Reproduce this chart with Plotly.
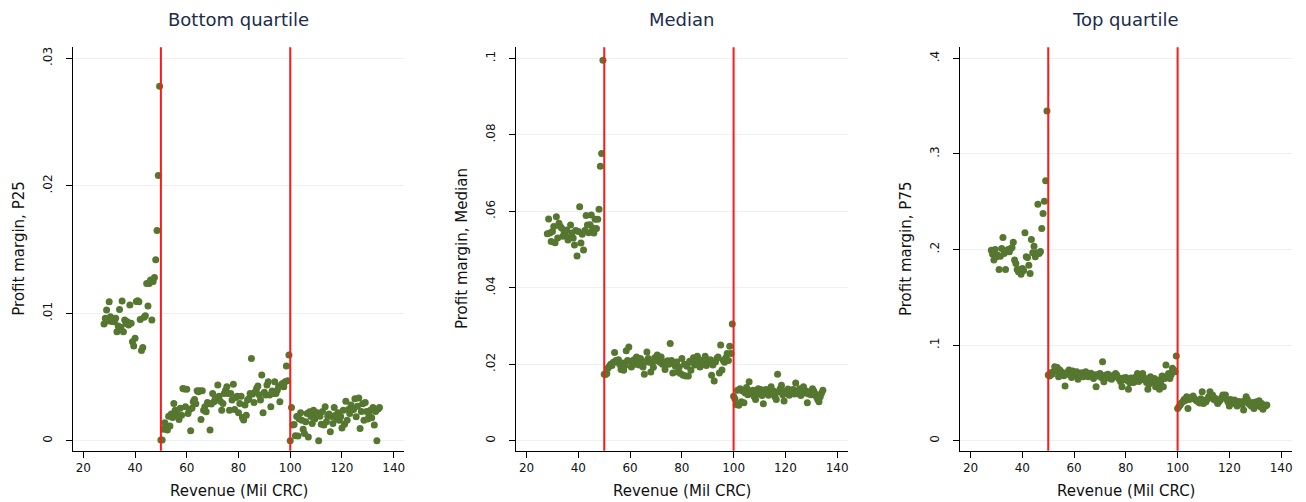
import plotly.graph_objects as go

# ---------------- data ----------------
rev_left = [28, 28.5, 29, 29.5, 30, 30.5, 31, 31.5, 32, 32.5, 33, 33.5, 34, 34.5, 35, 35.5,
            36, 36.5, 37, 37.5, 38, 38.5, 39, 39.5, 40, 40.5, 41, 41.5, 42, 42.5, 43, 43.5,
            44, 44.5, 45, 45.5, 46, 46.5, 47, 47.5, 48, 48.5, 49, 49.5]
rev_mid = [50, 50.5, 51, 51.5, 52, 52.5, 53, 53.5, 54, 54.5, 55, 55.5, 56, 56.5, 57, 57.5,
           58, 58.5, 59, 59.5, 60, 60.5, 61, 61.5, 62, 62.5, 63, 63.5, 64, 64.5, 65, 65.5,
           66, 66.5, 67, 67.5, 68, 68.5, 69, 69.5, 70, 70.5, 71, 71.5, 72, 72.5, 73, 73.5,
           74, 74.5, 75, 75.5, 76, 76.5, 77, 77.5, 78, 78.5, 79, 79.5, 80, 80.5, 81, 81.5,
           82, 82.5, 83, 83.5, 84, 84.5, 85, 85.5, 86, 86.5, 87, 87.5, 88, 88.5, 89, 89.5,
           90, 90.5, 91, 91.5, 92, 92.5, 93, 93.5, 94, 94.5, 95, 95.5, 96, 96.5, 97, 97.5,
           98, 98.5, 99, 99.5]
rev_right = [100, 100.5, 101, 101.5, 102, 102.5, 103, 103.5, 104, 104.5, 105, 105.5, 106, 106.5,
             107, 107.5, 108, 108.5, 109, 109.5, 110, 110.5, 111, 111.5, 112, 112.5, 113, 113.5,
             114, 114.5, 115, 115.5, 116, 116.5, 117, 117.5, 118, 118.5, 119, 119.5, 120, 120.5,
             121, 121.5, 122, 122.5, 123, 123.5, 124, 124.5, 125, 125.5, 126, 126.5, 127, 127.5,
             128, 128.5, 129, 129.5, 130, 130.5, 131, 131.5, 132, 132.5, 133, 133.5, 134, 134.5]

p25_left = [9.15e-3, 9.6e-3, 10.25e-3, 9.4e-3, 10.9e-3, 9.73e-3, 9.35e-3, 9.47e-3, 9.33e-3, 9.6e-3,
            8.55e-3, 9.0e-3, 10.3e-3, 8.9e-3, 10.96e-3, 8.55e-3, 9.47e-3, 9.2e-3, 9.33e-3, 9.07e-3,
            10.64e-3, 9.21e-3, 7.77e-3, 7.43e-3, 8.04e-3, 10.92e-3, 10.98e-3, 10.9e-3, 9.52e-3, 7.07e-3,
            7.32e-3, 9.68e-3, 9.8e-3, 12.34e-3, 10.56e-3, 12.34e-3, 12.6e-3, 9.47e-3, 12.5e-3, 12.8e-3,
            14.2e-3, 16.5e-3, 20.8e-3, 27.8e-3]
p25_mid = [0.05e-3, 0.05e-3, 0.9e-3, 1.41e-3, 1.2e-3, 0.84e-3, 1.93e-3, 1.15e-3, 2.1e-3, 1.83e-3,
           2.93e-3, 2.4e-3, 2.27e-3, 1.93e-3, 1.67e-3, 2.54e-3, 2.01e-3, 4.10e-3, 4.05e-3, 2.67e-3,
           4.03e-3, 2.14e-3, 2.46e-3, 0.78e-3, 2.54e-3, 3.06e-3, 3.24e-3, 2.9e-3, 3.92e-3, 3.84e-3,
           3.92e-3, 1.67e-3, 3.92e-3, 2.40e-3, 2.67e-3, 2.27e-3, 3.0e-3, 2.93e-3, 0.84e-3, 2.88e-3,
           3.71e-3, 3.06e-3, 3.32e-3, 3.40e-3, 4.37e-3, 3.50e-3, 3.1e-3, 2.40e-3, 2.93e-3, 3.71e-3,
           3.97e-3, 4.23e-3, 3.71e-3, 2.40e-3, 3.71e-3, 3.2e-3, 4.44e-3, 2.46e-3, 3.40e-3, 3.50e-3,
           2.20e-3, 2.93e-3, 3.5e-3, 1.83e-3, 1.62e-3, 2.80e-3, 2.01e-3, 3.19e-3, 3.32e-3, 3.71e-3,
           6.46e-3, 3.66e-3, 3.0e-3, 3.84e-3, 4.10e-3, 4.29e-3, 3.6e-3, 3.19e-3, 5.15e-3, 2.20e-3,
           3.8e-3, 3.58e-3, 4.37e-3, 4.63e-3, 3.58e-3, 2.67e-3, 3.9e-3, 3.71e-3, 4.63e-3, 3.71e-3,
           3.97e-3, 4.23e-3, 3.06e-3, 4.4e-3, 4.50e-3, 4.23e-3, 4.63e-3, 5.86e-3, 4.71e-3, 6.72e-3]
p25_right = [0.0, 2.6e-3, 1.23e-3, 1.28e-3, 0.4e-3, 1.9e-3, 0.37e-3, 1.7e-3, 2.2e-3, 1.6e-3,
             0.9e-3, 0.57e-3, 1.5e-3, 2.14e-3, 0.3e-3, 2.27e-3, 1.9e-3, 1.36e-3, 2.4e-3, 1.7e-3,
             2.14e-3, 2.2e-3, 0.0, 1.93e-3, 1.3e-3, 2.3e-3, 1.23e-3, 2.67e-3, 1.5e-3, 1.93e-3,
             2.1e-3, 0.7e-3, 1.9e-3, 1.36e-3, 2.6e-3, 2.0e-3, 1.7e-3, 2.2e-3, 1.6e-3, 1.9e-3,
             1.0e-3, 2.4e-3, 1.3e-3, 3.1e-3, 1.6e-3, 2.45e-3, 2.14e-3, 2.8e-3, 2.5e-3, 2.45e-3,
             3.3e-3, 1.88e-3, 2.7e-3, 3.35e-3, 0.97e-3, 2.3e-3, 2.9e-3, 1.6e-3, 3.0e-3, 2.3e-3,
             1.7e-3, 2.0e-3, 2.4e-3, 1.8e-3, 2.6e-3, 1.23e-3, 2.3e-3, 0.0, 2.5e-3, 2.6e-3]

p50_left = [5.41e-2, 5.80e-2, 5.43e-2, 5.21e-2, 5.47e-2, 5.60e-2, 5.18e-2, 5.86e-2, 5.30e-2, 5.69e-2,
            5.60e-2, 5.56e-2, 5.35e-2, 5.47e-2, 5.38e-2, 5.51e-2, 5.25e-2, 5.30e-2, 5.64e-2, 5.43e-2,
            5.30e-2, 5.12e-2, 5.50e-2, 4.83e-2, 5.47e-2, 6.12e-2, 5.17e-2, 5.40e-2, 4.99e-2, 5.50e-2,
            5.89e-2, 5.64e-2, 5.44e-2, 5.65e-2, 5.90e-2, 5.56e-2, 5.43e-2, 5.79e-2, 5.55e-2, 5.79e-2,
            6.05e-2, 7.18e-2, 7.51e-2, 9.95e-2]
p50_mid = [1.74e-2, 1.73e-2, 1.76e-2, 1.90e-2, 1.95e-2, 2.00e-2, 1.97e-2, 2.05e-2, 2.31e-2, 2.10e-2,
           2.06e-2, 2.12e-2, 1.99e-2, 1.86e-2, 2.03e-2, 1.84e-2, 1.97e-2, 2.35e-2, 2.10e-2, 2.45e-2,
           2.08e-2, 1.93e-2, 2.05e-2, 2.12e-2, 2.00e-2, 2.19e-2, 2.06e-2, 1.98e-2, 2.15e-2, 2.10e-2,
           1.93e-2, 1.74e-2, 2.06e-2, 2.32e-2, 2.15e-2, 2.05e-2, 1.80e-2, 2.03e-2, 1.92e-2, 2.17e-2,
           2.10e-2, 2.24e-2, 2.12e-2, 2.05e-2, 2.19e-2, 2.00e-2, 2.06e-2, 1.86e-2, 2.02e-2, 2.09e-2,
           2.00e-2, 2.54e-2, 2.10e-2, 1.77e-2, 2.03e-2, 1.95e-2, 2.06e-2, 1.80e-2, 1.93e-2, 1.76e-2,
           2.15e-2, 1.71e-2, 2.00e-2, 1.69e-2, 1.95e-2, 1.69e-2, 2.08e-2, 1.84e-2, 2.05e-2, 2.17e-2,
           1.98e-2, 2.02e-2, 2.21e-2, 2.08e-2, 1.93e-2, 2.10e-2, 2.03e-2, 2.00e-2, 2.21e-2, 1.97e-2,
           2.10e-2, 2.05e-2, 2.12e-2, 1.71e-2, 1.98e-2, 1.56e-2, 2.06e-2, 2.15e-2, 2.19e-2, 1.77e-2,
           2.50e-2, 1.85e-2, 2.10e-2, 2.05e-2, 2.17e-2, 2.28e-2, 2.10e-2, 2.47e-2, 2.28e-2, 3.05e-2]
p50_right = [1.16e-2, 1.10e-2, 0.95e-2, 1.32e-2, 0.93e-2, 1.36e-2, 1.02e-2, 1.30e-2, 0.99e-2, 1.25e-2,
             1.39e-2, 1.20e-2, 1.54e-2, 1.30e-2, 1.23e-2, 1.32e-2, 1.15e-2, 1.08e-2, 1.28e-2, 1.36e-2,
             1.22e-2, 1.34e-2, 1.18e-2, 0.97e-2, 1.25e-2, 1.34e-2, 1.30e-2, 1.19e-2, 1.28e-2, 1.41e-2,
             1.22e-2, 1.30e-2, 1.15e-2, 1.08e-2, 1.74e-2, 1.28e-2, 1.36e-2, 1.45e-2, 1.20e-2, 1.04e-2,
             1.30e-2, 1.28e-2, 1.35e-2, 1.19e-2, 1.25e-2, 1.30e-2, 1.34e-2, 1.22e-2, 1.51e-2, 1.23e-2,
             1.30e-2, 1.36e-2, 1.18e-2, 1.25e-2, 1.41e-2, 1.25e-2, 1.30e-2, 0.99e-2, 1.22e-2, 1.28e-2,
             1.20e-2, 1.36e-2, 1.30e-2, 1.23e-2, 1.15e-2, 1.08e-2, 1.02e-2, 1.15e-2, 1.25e-2, 1.32e-2]

p75_left = [19.93e-2, 19.51e-2, 18.89e-2, 20.0e-2, 19.23e-2, 19.41e-2, 17.91e-2, 19.3e-2, 20.10e-2, 21.25e-2,
            19.58e-2, 17.91e-2, 19.86e-2, 20.0e-2, 19.76e-2, 20.1e-2, 20.2e-2, 20.77e-2, 18.89e-2, 18.54e-2,
            17.91e-2, 17.67e-2, 17.91e-2, 17.42e-2, 18.01e-2, 17.8e-2, 21.74e-2, 19.23e-2, 19.16e-2, 18.36e-2,
            17.49e-2, 21.05e-2, 19.65e-2, 20.35e-2, 19.23e-2, 19.65e-2, 24.74e-2, 19.58e-2, 19.8e-2, 22.20e-2,
            23.76e-2, 25.05e-2, 27.18e-2, 34.49e-2]
p75_mid = [6.87e-2, 6.76e-2, 7.10e-2, 6.95e-2, 7.22e-2, 7.74e-2, 7.30e-2, 7.67e-2, 6.69e-2, 7.40e-2,
           7.22e-2, 7.04e-2, 6.80e-2, 5.72e-2, 7.11e-2, 6.95e-2, 7.39e-2, 7.15e-2, 6.62e-2, 7.30e-2,
           7.04e-2, 6.90e-2, 7.22e-2, 6.42e-2, 7.00e-2, 6.87e-2, 7.10e-2, 6.69e-2, 6.90e-2, 7.22e-2,
           7.04e-2, 6.70e-2, 6.87e-2, 7.05e-2, 6.80e-2, 6.52e-2, 6.90e-2, 5.65e-2, 6.76e-2, 6.95e-2,
           7.04e-2, 6.60e-2, 8.26e-2, 6.17e-2, 6.85e-2, 6.62e-2, 6.95e-2, 6.87e-2, 6.50e-2, 6.42e-2,
           6.69e-2, 6.85e-2, 7.04e-2, 6.87e-2, 6.60e-2, 6.40e-2, 6.17e-2, 5.65e-2, 6.55e-2, 6.42e-2,
           6.62e-2, 6.30e-2, 5.37e-2, 6.07e-2, 6.55e-2, 6.35e-2, 6.10e-2, 6.62e-2, 6.45e-2, 7.04e-2,
           6.20e-2, 6.69e-2, 6.40e-2, 7.04e-2, 6.60e-2, 6.35e-2, 6.10e-2, 5.37e-2, 5.93e-2, 6.69e-2,
           6.40e-2, 6.17e-2, 6.50e-2, 5.65e-2, 6.35e-2, 5.90e-2, 5.37e-2, 6.20e-2, 6.76e-2, 5.64e-2,
           6.52e-2, 7.91e-2, 6.80e-2, 7.04e-2, 6.52e-2, 6.90e-2, 7.57e-2, 7.39e-2, 7.22e-2, 8.85e-2]
p75_right = [3.38e-2, 3.55e-2, 3.73e-2, 3.95e-2, 4.08e-2, 4.32e-2, 4.20e-2, 4.60e-2, 3.38e-2, 4.30e-2,
             4.53e-2, 4.45e-2, 4.67e-2, 4.40e-2, 4.25e-2, 4.15e-2, 4.08e-2, 3.95e-2, 4.40e-2, 5.12e-2,
             3.90e-2, 4.20e-2, 4.08e-2, 4.35e-2, 4.60e-2, 5.12e-2, 4.50e-2, 4.77e-2, 4.30e-2, 4.43e-2,
             4.15e-2, 3.90e-2, 4.10e-2, 4.25e-2, 4.50e-2, 4.77e-2, 4.60e-2, 4.77e-2, 4.32e-2, 4.05e-2,
             3.62e-2, 4.30e-2, 4.08e-2, 3.95e-2, 4.25e-2, 3.85e-2, 3.62e-2, 4.10e-2, 3.97e-2, 4.08e-2,
             3.80e-2, 3.21e-2, 4.20e-2, 4.60e-2, 4.30e-2, 3.90e-2, 3.75e-2, 3.62e-2, 4.00e-2, 3.38e-2,
             3.80e-2, 4.08e-2, 3.70e-2, 4.18e-2, 3.55e-2, 3.90e-2, 3.28e-2, 3.65e-2, 3.62e-2, 3.73e-2]

thresholds = [50, 100]

panel_titles = ["Bottom quartile", "Median", "Top quartile"]
y_titles = ["Profit margin, P25", "Profit margin, Median", "Profit margin, P75"]
x_title = "Revenue (Mil CRC)"
x_ticks = [20, 40, 60, 80, 100, 120, 140]

p25_ticks = [0, 0.01, 0.02, 0.03]
p25_labels = ["0", ".01", ".02", ".03"]
p50_ticks = [0, 0.02, 0.04, 0.06, 0.08, 0.1]
p50_labels = ["0", ".02", ".04", ".06", ".08", ".1"]
p75_ticks = [0, 0.1, 0.2, 0.3, 0.4]
p75_labels = ["0", ".1", ".2", ".3", ".4"]

# ---------------- figure ----------------
revenue = rev_left + rev_mid + rev_right
series = [p25_left + p25_mid + p25_right,
          p50_left + p50_mid + p50_right,
          p75_left + p75_mid + p75_right]
ticks = [(p25_ticks, p25_labels), (p50_ticks, p50_labels), (p75_ticks, p75_labels)]
y_ranges = [[-0.00078, 0.03086], [-0.00261, 0.10288], [-0.01045, 0.4115]]

W, H = 1306, 502
x_dom_px = [(72.7, 404.3), (516.0, 847.7), (960.0, 1291.7)]
y_dom = [1 - 450.7 / H, 1 - 47.3 / H]

FONT = "DejaVu Sans"
MARKER = "#55772f"
TITLE_COL = "#1c2c4c"

fig = go.Figure()
annotations = []
shapes = []
for i in range(3):
    n = "" if i == 0 else str(i + 1)
    fig.add_trace(go.Scatter(x=revenue, y=series[i], mode="markers",
                             marker=dict(size=7, color=MARKER, line=dict(width=0)),
                             xaxis="x" + n, yaxis="y" + n, showlegend=False,
                             hoverinfo="x+y"))
    x0, x1 = x_dom_px[i]
    dom = [x0 / W, x1 / W]
    fig.update_layout(**{
        "xaxis" + n: dict(domain=dom, anchor="y" + n, range=[15.9, 144.1],
                          tickvals=x_ticks, ticks="outside", ticklen=6, tickwidth=1,
                          tickcolor="#000", showline=True, linecolor="#000", linewidth=1,
                          showgrid=False, zeroline=False,
                          tickfont=dict(family=FONT, size=12, color="#111")),
        "yaxis" + n: dict(domain=y_dom, anchor="x" + n, range=y_ranges[i],
                          tickvals=ticks[i][0], ticktext=ticks[i][1], tickangle=-90,
                          ticks="outside", ticklen=6, tickwidth=1, tickcolor="#000",
                          ticklabelstandoff=9,
                          showline=True, linecolor="#000", linewidth=1,
                          showgrid=True, gridcolor="#eaf1f3", gridwidth=1, zeroline=False,
                          tickfont=dict(family=FONT, size=12, color="#111")),
    })
    for t in thresholds:
        shapes.append(dict(type="line", xref="x" + n, yref="y" + n + " domain",
                           x0=t, x1=t, y0=0, y1=1,
                           line=dict(color="#ff1a1a", width=2), layer="above"))
    cx = (x0 + x1) / 2 / W
    annotations.append(dict(text=panel_titles[i], xref="paper", yref="paper",
                            x=cx, y=1 - 20 / H, xanchor="center", yanchor="middle",
                            showarrow=False,
                            font=dict(family=FONT, size=18, color=TITLE_COL)))
    annotations.append(dict(text=x_title, xref="paper", yref="paper",
                            x=cx, y=1 - 491 / H, xanchor="center", yanchor="middle",
                            showarrow=False,
                            font=dict(family=FONT, size=15, color="#111")))
    annotations.append(dict(text=y_titles[i], xref="paper", yref="paper",
                            x=(x0 - 54) / W, y=(y_dom[0] + y_dom[1]) / 2,
                            xanchor="center", yanchor="middle", showarrow=False,
                            textangle=-90,
                            font=dict(family=FONT, size=15, color="#111")))

fig.update_layout(width=W, height=H, margin=dict(l=0, r=0, t=0, b=0),
                  paper_bgcolor="white", plot_bgcolor="white",
                  annotations=annotations, shapes=shapes,
                  font=dict(family=FONT))
fig.write_html("out.html")
